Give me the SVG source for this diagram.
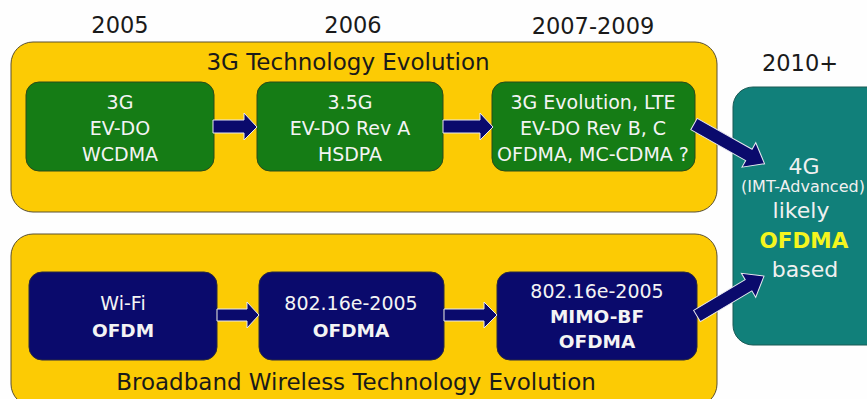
<svg xmlns="http://www.w3.org/2000/svg" width="867" height="399" viewBox="0 0 867 399">
<style>
.bg{fill:#fefefe}
.lane{fill:#fccb04;stroke:#5a5030;stroke-width:1}
.green{fill:#157c15;stroke:#2a4a1a;stroke-width:1}
.navy{fill:#0a0a6c;stroke:#2a2a40;stroke-width:1}
.teal{fill:#11807a;stroke:#1a5a55;stroke-width:1}
.arrow{fill:#0a0a6c;stroke:#e8e8f0;stroke-width:1;stroke-linejoin:miter}
text{font-family:"DejaVu Sans","Verdana",sans-serif;text-anchor:middle}
.yr{font-size:22.5px;fill:#1a1a1a}
.title{font-size:23px;fill:#1a1a1a}
.bx{font-size:19px;fill:#f4f4f4}
.bb{font-size:18.5px;fill:#f4f4f4;font-weight:bold}
.tl{font-size:22px;fill:#f0f0f0}
.ts{font-size:16px;fill:#f0f0f0}
.ty{font-size:21.5px;fill:#f5f51e;font-weight:bold}
</style>
<rect class="bg" x="0" y="0" width="867" height="399"/>

<g id="years">
<text class="yr" x="120" y="33">2005</text>
<text class="yr" x="353" y="33">2006</text>
<text class="yr" x="593" y="34">2007-2009</text>
<text class="yr" x="800" y="71">2010+</text>
</g>

<g id="lane-3g">
<rect class="lane" x="11" y="42" width="706" height="170" rx="22"/>
<text class="title" x="348" y="70">3G Technology Evolution</text>
</g>

<g id="lane-bw">
<rect class="lane" x="11" y="234" width="706" height="172" rx="22"/>
<text class="title" x="356" y="390">Broadband Wireless Technology Evolution</text>
</g>

<g id="n3g">
<rect class="green" x="26" y="82" width="188" height="89" rx="13"/>
<text class="bx" x="120" y="109">3G</text>
<text class="bx" x="120" y="135">EV-DO</text>
<text class="bx" x="120" y="161">WCDMA</text>
</g>

<g id="n35g">
<rect class="green" x="257" y="82" width="186" height="89" rx="13"/>
<text class="bx" x="350" y="109">3.5G</text>
<text class="bx" x="350" y="135">EV-DO Rev A</text>
<text class="bx" x="350" y="161">HSDPA</text>
</g>

<g id="n3gevo">
<rect class="green" x="492" y="82" width="203" height="89" rx="13"/>
<text class="bx" x="593" y="109">3G Evolution, LTE</text>
<text class="bx" x="593" y="135">EV-DO Rev B, C</text>
<text class="bx" x="593" y="161">OFDMA, MC-CDMA ?</text>
</g>

<g id="nwifi">
<rect class="navy" x="29" y="272" width="188" height="88" rx="13"/>
<text class="bx" x="123" y="310">Wi-Fi</text>
<text class="bb" x="123" y="337">OFDM</text>
</g>

<g id="n16e">
<rect class="navy" x="259" y="272" width="185" height="88" rx="13"/>
<text class="bx" x="351" y="310">802.16e-2005</text>
<text class="bb" x="351" y="337">OFDMA</text>
</g>

<g id="n16emimo">
<rect class="navy" x="497" y="272" width="200" height="88" rx="13"/>
<text class="bx" x="597" y="298">802.16e-2005</text>
<text class="bb" x="597" y="323">MIMO-BF</text>
<text class="bb" x="597" y="348">OFDMA</text>
</g>

<g id="n4g">
<rect class="teal" x="733" y="87" width="160" height="258" rx="20"/>
<text class="tl" x="804" y="174">4G</text>
<text class="ts" x="803" y="192">(IMT-Advanced)</text>
<text class="tl" x="801" y="218">likely</text>
<text class="ty" x="804" y="248">OFDMA</text>
<text class="tl" x="805" y="277">based</text>
</g>

<g id="connectors">
<polygon class="arrow" points="213,120 244,120 244,113 257,127 244,140 244,133 213,133"/>
<polygon class="arrow" points="443,120 480,120 480,113 493,127 480,140 480,133 443,133"/>
<polygon class="arrow" points="217,309 247,309 247,302 259,315 247,328 247,321 217,321"/>
<polygon class="arrow" points="444,309 484,309 484,302 497,315 484,328 484,321 444,321"/>
<g transform="translate(694,124) rotate(29.4)">
<polygon class="arrow" points="0,-6.5 63,-6.5 63,-14 81,0 63,14 63,6.5 0,6.5"/>
</g>
<g transform="translate(697,316) rotate(-30.8)">
<polygon class="arrow" points="0,-6.5 60,-6.5 60,-14 78,0 60,14 60,6.5 0,6.5"/>
</g>
</g>
</svg>
